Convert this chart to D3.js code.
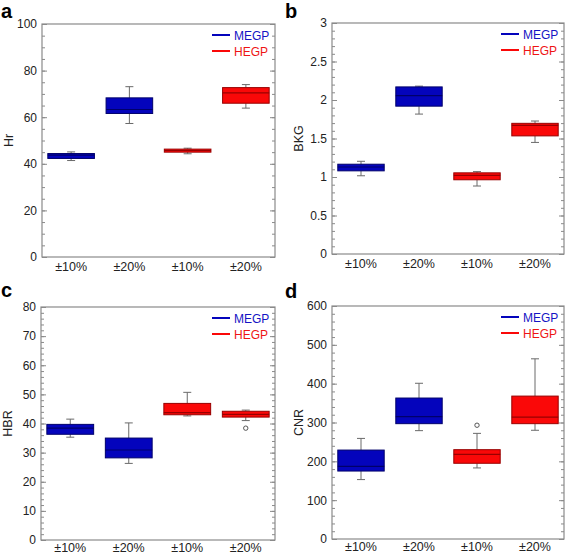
<!DOCTYPE html>
<html>
<head>
<meta charset="utf-8">
<script src="https://cdn.jsdelivr.net/npm/d3@7"></script>
<style>
  body { margin: 0; background: #fff; }
  svg { display: block; font-family: "Liberation Sans", Arial, sans-serif; }
</style>
</head>
<body>
<svg id="chart" width="567" height="555"></svg>
<script>
// ---------- DATA ----------
const categories = ["±10%", "±20%", "±10%", "±20%"];
const seriesOfCategory = ["MEGP", "MEGP", "HEGP", "HEGP"];
const seriesNames = ["MEGP", "HEGP"];

// each box: [whiskerLow, q1, median, q3, whiskerHigh]
const hrBoxes = [
  [41.4, 42.3, 43.7, 44.4, 45.1],
  [57.3, 61.6, 63.3, 68.3, 73.1],
  [44.3, 45.0, 45.7, 46.3, 46.7],
  [63.9, 66.0, 70.4, 72.7, 74.0]
];
const hrOutliers = [[], [], [], []];

const bkgBoxes = [
  [1.016, 1.08, 1.13, 1.166, 1.204],
  [1.817, 1.92, 2.057, 2.17, 2.18],
  [0.883, 0.964, 1.02, 1.054, 1.07],
  [1.449, 1.534, 1.671, 1.697, 1.727]
];
const bkgOutliers = [[], [], [], []];

const hbrBoxes = [
  [35.3, 36.3, 38.4, 39.7, 41.5],
  [26.3, 28.2, 30.9, 35.0, 40.2],
  [42.6, 43.0, 43.7, 46.9, 50.7],
  [41.0, 42.2, 43.1, 44.2, 44.6]
];
const hbrOutliers = [[], [], [], [38.4]];

const cnrBoxes = [
  [153, 175, 187, 229, 259],
  [279, 297, 315, 363, 401],
  [183, 195, 218, 230, 272],
  [280, 297, 314, 368, 464]
];
const cnrOutliers = [[], [], [293], []];

const hrTicks = [0, 20, 40, 60, 80, 100];
const bkgTicks = [0, 0.5, 1, 1.5, 2, 2.5, 3];
const hbrTicks = [0, 10, 20, 30, 40, 50, 60, 70, 80];
const cnrTicks = [0, 100, 200, 300, 400, 500, 600];

// ---------- STYLE / LAYOUT ----------
const fill = { MEGP: "#0404bc", HEGP: "#fa0808" };
const edge = { MEGP: "#00006a", HEGP: "#980000" };
const legendColor = { MEGP: "#1414c4", HEGP: "#ee1414" };
const FONT = "'Liberation Sans', Arial, sans-serif";

const panels = [
  { letter: "a", ylabel: "Hr",  boxes: hrBoxes,  outliers: hrOutliers,  ticks: hrTicks,  minor: 5,
    x0: 42, x1: 275, y0: 24, y1: 257, lx: 1, ly: 18, xpad: 5 },
  { letter: "b", ylabel: "BKG", boxes: bkgBoxes, outliers: bkgOutliers, ticks: bkgTicks, minor: 0.1,
    x0: 332, x1: 564, y0: 23, y1: 254, lx: 285, ly: 18, xpad: 5 },
  { letter: "c", ylabel: "HBR", boxes: hbrBoxes, outliers: hbrOutliers, ticks: hbrTicks, minor: 2,
    x0: 41, x1: 275, y0: 307, y1: 540, lx: 1, ly: 297, xpad: 3 },
  { letter: "d", ylabel: "CNR", boxes: cnrBoxes, outliers: cnrOutliers, ticks: cnrTicks, minor: 20,
    x0: 332, x1: 564, y0: 306, y1: 539, lx: 285, ly: 298, xpad: 3 }
];

const svg = d3.select("#chart");
const axisColor = "#8a8a8a";
const textColor = "#222";

panels.forEach(p => {
  const g = svg.append("g");
  const ext = d3.extent(p.ticks);
  const y = d3.scaleLinear().domain(ext).range([p.y1, p.y0]);
  const x = d3.scaleBand().domain(d3.range(categories.length))
    .range([p.x0, p.x1]).paddingInner(0.2).paddingOuter(0.1);

  const nMinor = Math.round((ext[1] - ext[0]) / p.minor);
  const minorVals = d3.range(nMinor + 1).map(i => ext[0] + i * p.minor);

  // left axis (ticks inward)
  const left = g.append("g").attr("transform", `translate(${p.x0},0)`);
  left.call(d3.axisLeft(y).tickValues(minorVals).tickSize(-3).tickFormat(""));
  left.select(".domain").remove();
  left.selectAll("line").attr("stroke", axisColor);
  const leftMaj = g.append("g").attr("transform", `translate(${p.x0},0)`);
  leftMaj.call(d3.axisLeft(y).tickValues(p.ticks).tickSize(-5).tickPadding(5).tickFormat(d => String(d)));
  leftMaj.select(".domain").remove();
  leftMaj.selectAll("line").attr("stroke", axisColor);
  leftMaj.selectAll("text").attr("fill", textColor).style("font-size", "12px").style("font-family", FONT);

  // right axis mirrored ticks
  const right = g.append("g").attr("transform", `translate(${p.x1},0)`);
  right.call(d3.axisRight(y).tickValues(minorVals).tickSize(-3).tickFormat(""));
  right.select(".domain").remove();
  right.selectAll("line").attr("stroke", axisColor);
  const rightMaj = g.append("g").attr("transform", `translate(${p.x1},0)`);
  rightMaj.call(d3.axisRight(y).tickValues(p.ticks).tickSize(-5).tickFormat(""));
  rightMaj.select(".domain").remove();
  rightMaj.selectAll("line").attr("stroke", axisColor);

  // bottom axis labels
  const bottom = g.append("g").attr("transform", `translate(0,${p.y1})`);
  bottom.call(d3.axisBottom(x).tickSize(0).tickPadding(p.xpad).tickFormat(i => categories[i]));
  bottom.select(".domain").remove();
  bottom.selectAll("text").attr("fill", textColor).style("font-size", "12.5px").style("font-family", FONT);

  // frame
  g.append("rect").attr("x", p.x0).attr("y", p.y0)
    .attr("width", p.x1 - p.x0).attr("height", p.y1 - p.y0)
    .attr("fill", "none").attr("stroke", axisColor).attr("stroke-width", 1.2);

  // boxes
  p.boxes.forEach((b, i) => {
    const s = seriesOfCategory[i];
    const cx = x(i) + x.bandwidth() / 2;
    const capW = 4;
    const bx = g.append("g");
    bx.append("line").attr("x1", cx).attr("x2", cx).attr("y1", y(b[0])).attr("y2", y(b[1]))
      .attr("stroke", "#6a6a6a").attr("stroke-width", 1);
    bx.append("line").attr("x1", cx).attr("x2", cx).attr("y1", y(b[3])).attr("y2", y(b[4]))
      .attr("stroke", "#6a6a6a").attr("stroke-width", 1);
    [b[0], b[4]].forEach(v => {
      bx.append("line").attr("x1", cx - capW).attr("x2", cx + capW).attr("y1", y(v)).attr("y2", y(v))
        .attr("stroke", "#6a6a6a").attr("stroke-width", 1);
    });
    bx.append("rect").attr("x", x(i)).attr("y", y(b[3]))
      .attr("width", x.bandwidth()).attr("height", Math.max(1, y(b[1]) - y(b[3])))
      .attr("fill", fill[s]).attr("stroke", edge[s]).attr("stroke-width", 1);
    bx.append("line").attr("x1", x(i)).attr("x2", x(i) + x.bandwidth())
      .attr("y1", y(b[2])).attr("y2", y(b[2]))
      .attr("stroke", edge[s]).attr("stroke-width", 1.2);
    p.outliers[i].forEach(o => {
      bx.append("circle").attr("cx", cx).attr("cy", y(o)).attr("r", 2.2)
        .attr("fill", "#fff").attr("stroke", "#555").attr("stroke-width", 1);
    });
  });

  // legend
  const lg = g.append("g");
  seriesNames.forEach((s, k) => {
    const ly = p.y0 + 11 + k * 16;
    lg.append("line").attr("x1", p.x1 - 63).attr("x2", p.x1 - 45)
      .attr("y1", ly).attr("y2", ly).attr("stroke", fill[s]).attr("stroke-width", 2);
    lg.append("text").attr("x", p.x1 - 41).attr("y", ly + 4.5)
      .attr("fill", legendColor[s]).style("font-size", "12px").style("font-family", FONT).text(s);
  });

  // y label
  g.append("text")
    .attr("transform", `translate(${p.x0 - 29},${(p.y0 + p.y1) / 2}) rotate(-90)`)
    .attr("text-anchor", "middle").attr("fill", textColor)
    .style("font-size", "12.5px").style("font-family", FONT)
    .text(p.ylabel);

  // panel letter
  g.append("text").attr("x", p.lx).attr("y", p.ly)
    .attr("fill", "#000").style("font-size", "20px").style("font-weight", "bold").style("font-family", FONT)
    .text(p.letter);
});
</script>
</body>
</html>
